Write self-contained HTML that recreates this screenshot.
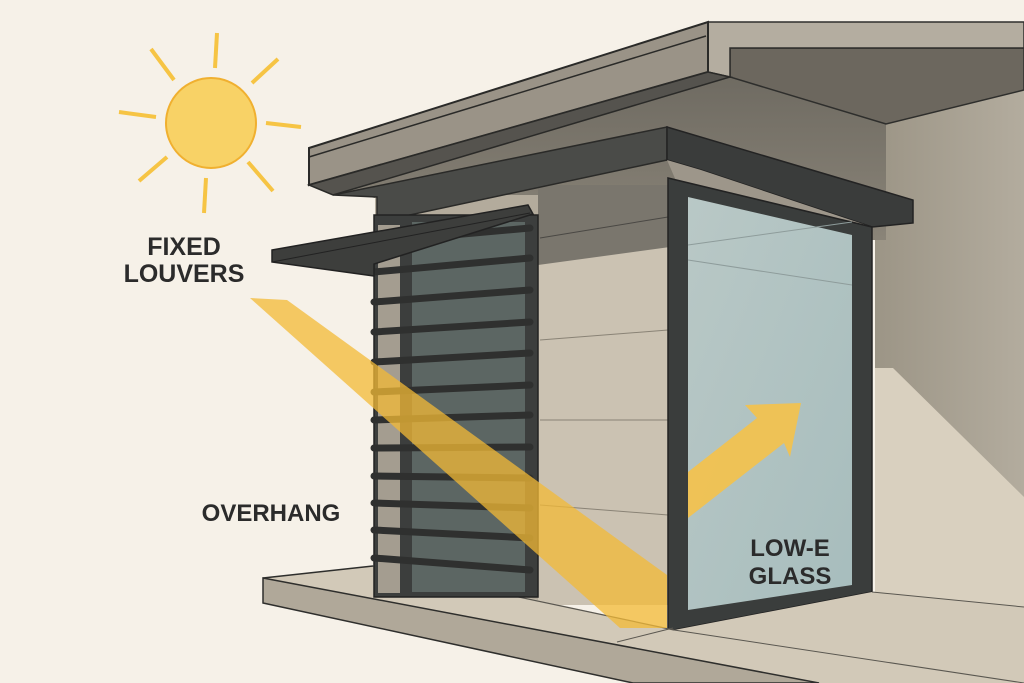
<!DOCTYPE html>
<html><head><meta charset="utf-8"><style>
html,body{margin:0;padding:0;background:#f6f1e8;}
svg{display:block}
text{font-family:"Liberation Sans",sans-serif;font-weight:bold;fill:#2b2b2b;}
</style></head><body>
<svg width="1024" height="683" viewBox="0 0 1024 683" xmlns="http://www.w3.org/2000/svg">
<defs>
<linearGradient id="glass" x1="0" y1="0" x2="1" y2="1"><stop offset="0" stop-color="#b9c8c6"/><stop offset="1" stop-color="#a7bdbd"/></linearGradient>
<linearGradient id="under" x1="0" y1="0" x2="0" y2="1"><stop offset="0" stop-color="#6e6a61"/><stop offset="1" stop-color="#8a8478"/></linearGradient>
<linearGradient id="rwall" x1="0" y1="0" x2="1" y2="0"><stop offset="0" stop-color="#9c9586"/><stop offset="1" stop-color="#b3ac9e"/></linearGradient>
</defs>
<rect width="1024" height="683" fill="#f6f1e8"/>
<!-- right wall -->
<polygon points="886,124 1024,90 1024,610 875,610 875,124" fill="url(#rwall)"/>
<polygon points="893,368 1024,497 1024,610 875,610 875,368" fill="#d9d0bf"/>
<!-- under roof dark area -->
<polygon points="309,185 708,72 730,77 886,124 886,240 375,240 375,198" fill="url(#under)"/>
<!-- soffit -->
<polygon points="730,48 1024,48 1024,90 886,124 730,77" fill="#6c675e" stroke="#2e2e2c" stroke-width="1.5"/>
<!-- roof top right -->
<polygon points="708,22 1024,22 1024,48 730,48 730,77 708,72" fill="#b4ada0" stroke="#2e2e2c" stroke-width="1.5"/>
<!-- roof front face -->
<polygon points="309,148 708,22 708,72 309,185" fill="#9a9387" stroke="#2a2a28" stroke-width="2"/>
<line x1="309" y1="157" x2="706" y2="36" stroke="#2a2a28" stroke-width="1.5"/>
<polygon points="309,185 708,72 730,77 333,195" fill="#55534e" stroke="#2a2a28" stroke-width="1.5"/>
<!-- walls -->
<rect x="375" y="195" width="165" height="405" fill="#b3ab9c"/>
<rect x="538" y="185" width="132" height="420" fill="#cbc2b2"/>
<polygon points="538,185 670,185 670,247 538,265" fill="#7a766d"/>
<line x1="540" y1="238" x2="668" y2="217" stroke="#4a4844" stroke-width="1"/>
<line x1="540" y1="340" x2="668" y2="330" stroke="#8a8376" stroke-width="1"/>
<line x1="540" y1="420" x2="668" y2="420" stroke="#8a8376" stroke-width="1"/>
<line x1="540" y1="505" x2="668" y2="515" stroke="#8a8376" stroke-width="1"/>
<!-- second slab -->
<polygon points="333,195 667,127 667,160 377,222 377,197" fill="#4a4b48" stroke="#2a2a28" stroke-width="1.5"/>
<polygon points="667,127 913,200 913,223 872,227 701,170 667,160" fill="#3a3c3b" stroke="#232323" stroke-width="1.5"/>
<polygon points="667,160 701,170 872,227 680,190" fill="#9d968a"/>
<!-- window frame & glass -->
<polygon points="668,178 872,227 872,592 674,630 668,630" fill="#3a3d3c" stroke="#222" stroke-width="1.5"/>
<polygon points="688,197 852,235 852,585 688,610" fill="url(#glass)"/>
<line x1="688" y1="245" x2="852" y2="222" stroke="#8e9c9b" stroke-width="1"/>
<line x1="688" y1="260" x2="852" y2="285" stroke="#8e9c9b" stroke-width="1"/>
<!-- floor -->
<polygon points="263,578 373,566 538,600 674,630 872,592 1024,607 1024,683 819,683" fill="#d2c9b8"/>
<polygon points="263,578 819,683 633,683 263,603" fill="#b0a899" stroke="#2e2e2c" stroke-width="1.5"/>
<line x1="263" y1="578" x2="373" y2="566" stroke="#2e2e2c" stroke-width="1.5"/>
<line x1="373" y1="566" x2="674" y2="630" stroke="#5a5750" stroke-width="1.2"/>
<line x1="872" y1="592" x2="1024" y2="607" stroke="#5a5750" stroke-width="1"/>
<line x1="673" y1="628" x2="617" y2="642" stroke="#5a5750" stroke-width="1"/>
<line x1="674" y1="630" x2="1024" y2="683" stroke="#5a5750" stroke-width="1"/>
<!-- louver panel -->
<rect x="374" y="215" width="164" height="382" fill="#3c3e3d" stroke="#222" stroke-width="1.5"/>
<rect x="378" y="225" width="22" height="368" fill="#a49d90"/>
<rect x="412" y="222" width="113" height="370" fill="#5c6663"/>
<g stroke-linecap="round">
<line x1="374" y1="242" x2="530" y2="228" stroke="#2f302f" stroke-width="7"/>
<line x1="374" y1="272" x2="530" y2="258" stroke="#2f302f" stroke-width="7"/>
<line x1="374" y1="302" x2="530" y2="290" stroke="#2f302f" stroke-width="7"/>
<line x1="374" y1="332" x2="530" y2="322" stroke="#2f302f" stroke-width="7"/>
<line x1="374" y1="362" x2="530" y2="353" stroke="#2f302f" stroke-width="7"/>
<line x1="374" y1="392" x2="530" y2="385" stroke="#2f302f" stroke-width="7"/>
<line x1="374" y1="420" x2="530" y2="415" stroke="#2f302f" stroke-width="7"/>
<line x1="374" y1="448" x2="530" y2="447" stroke="#2f302f" stroke-width="7"/>
<line x1="374" y1="476" x2="530" y2="478" stroke="#2f302f" stroke-width="7"/>
<line x1="374" y1="503" x2="530" y2="508" stroke="#2f302f" stroke-width="7"/>
<line x1="374" y1="530" x2="530" y2="538" stroke="#2f302f" stroke-width="7"/>
<line x1="374" y1="558" x2="530" y2="570" stroke="#2f302f" stroke-width="7"/>
</g>
<!-- awning -->
<polygon points="272,250 528,205 533,214 374,264 374,276 272,262" fill="#3d3e3c" stroke="#222" stroke-width="1.5"/>
<line x1="272" y1="262" x2="530" y2="213" stroke="#222" stroke-width="1"/>
<!-- sun beam -->
<polygon points="250,298 287,300 667,575 667,628 620,628" fill="#f3b935" opacity="0.75"/>
<!-- arrow -->
<polygon points="688,472 757,418 745,405 801,403 790,457 784,443 688,518" fill="#f5c24a" opacity="0.9"/>
<!-- sun -->
<circle cx="211" cy="123" r="45" fill="#f8d266" stroke="#f0b030" stroke-width="2"/>
<g stroke="#f6c444" stroke-width="4">
<line x1="217" y1="33" x2="215" y2="68"/>
<line x1="278" y1="59" x2="252" y2="83"/>
<line x1="266" y1="123" x2="301" y2="127"/>
<line x1="248" y1="162" x2="273" y2="191"/>
<line x1="206" y1="178" x2="204" y2="213"/>
<line x1="167" y1="157" x2="139" y2="181"/>
<line x1="119" y1="112" x2="156" y2="117"/>
<line x1="151" y1="49" x2="174" y2="80"/>
</g>
<!-- labels -->
<text x="184" y="255" font-size="25" text-anchor="middle">FIXED</text>
<text x="184" y="282" font-size="25" text-anchor="middle">LOUVERS</text>
<text x="271" y="521" font-size="24" text-anchor="middle">OVERHANG</text>
<text x="790" y="556" font-size="24" text-anchor="middle">LOW-E</text>
<text x="790" y="584" font-size="24" text-anchor="middle">GLASS</text>
</svg>
</body></html>
